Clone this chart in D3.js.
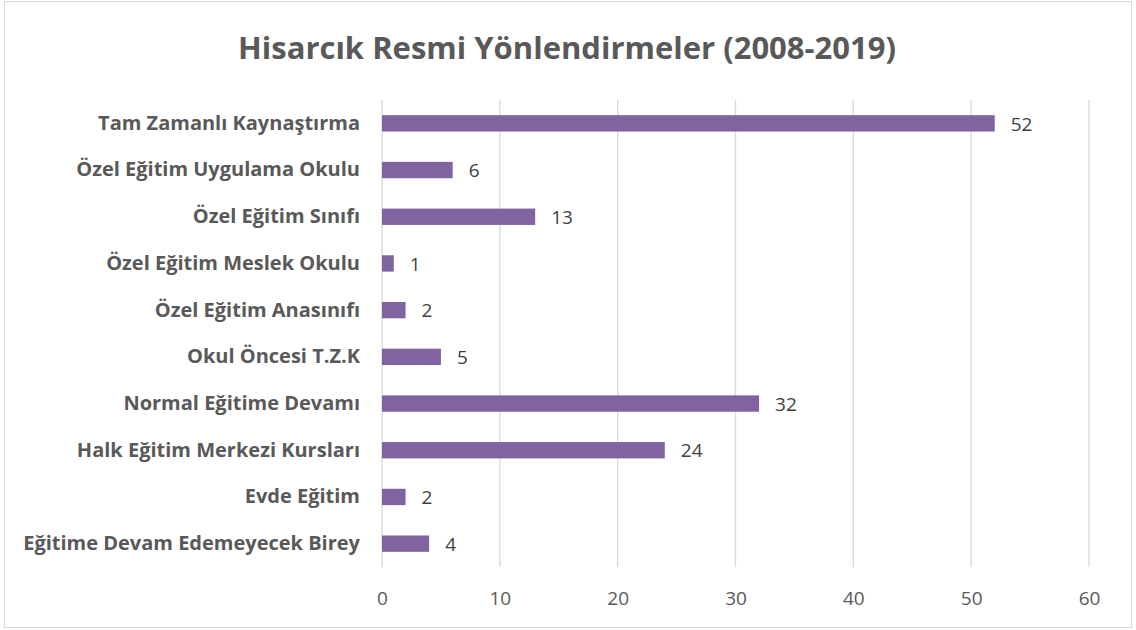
<!DOCTYPE html>
<html><head><meta charset="utf-8">
<script src="https://cdn.jsdelivr.net/npm/d3@7"></script>
<style>body{margin:0;background:#fff}svg{display:block}</style>
</head><body><svg id="c" width="1136" height="630"></svg>
<script>
const categories = ["Tam Zamanlı Kaynaştırma","Özel Eğitim Uygulama Okulu","Özel Eğitim Sınıfı","Özel Eğitim Meslek Okulu","Özel Eğitim Anasınıfı","Okul Öncesi T.Z.K","Normal Eğitime Devamı","Halk Eğitim Merkezi Kursları","Evde Eğitim","Eğitime Devam Edemeyecek Birey"];
const values = [52,6,13,1,2,5,32,24,2,4];
const xTicks = [0,10,20,30,40,50,60];
const title = "Hisarcık Resmi Yönlendirmeler (2008-2019)";

const svg = d3.select("#c");
const font = "'Open Sans', 'Noto Sans', sans-serif";
svg.append("rect").attr("x",4.5).attr("y",1.5).attr("width",1127).attr("height",626)
  .attr("fill","#fff").attr("stroke","#d9d9d9").attr("stroke-width",1);

const x = d3.scaleLinear().domain([0,60]).range([382,1089]);
const y = d3.scaleBand().domain(categories).range([100,567]).paddingInner(0.65).paddingOuter(0.325);

svg.append("text").attr("x",567).attr("y",59).attr("text-anchor","middle")
  .attr("font-family",font).attr("font-weight","bold").attr("font-size",31).attr("fill","#595959").text(title);

const g = svg.append("g");
g.selectAll("line.grid").data(xTicks).join("line").attr("class","grid")
  .attr("x1",d=>x(d)).attr("x2",d=>x(d)).attr("y1",100).attr("y2",567)
  .attr("stroke","#d9d9d9").attr("stroke-width",1.3);

const xAxis = d3.axisBottom(x).tickValues(xTicks).tickSize(0).tickPadding(0);
const ax = svg.append("g").attr("transform","translate(0,605)").call(xAxis);
ax.select(".domain").remove();
ax.selectAll("text").attr("font-family",font).attr("font-size",19).attr("fill","#595959").attr("dy",0);

const yAxis = d3.axisLeft(y).tickSize(0).tickPadding(22);
const ay = svg.append("g").attr("transform","translate(382,0)").call(yAxis);
ay.select(".domain").remove();
ay.selectAll("text").attr("font-family",font).attr("font-weight","bold").attr("font-size",20).attr("fill","#595959");

g.selectAll("rect.bar").data(values).join("rect").attr("class","bar")
  .attr("x",x(0)).attr("y",(d,i)=>y(categories[i]))
  .attr("width",d=>x(d)-x(0)).attr("height",y.bandwidth()).attr("fill","#8064a2");

g.selectAll("text.val").data(values).join("text").attr("class","val")
  .attr("x",d=>x(d)+16).attr("y",(d,i)=>y(categories[i])+y.bandwidth()/2).attr("dy","0.38em")
  .attr("font-family",font).attr("font-size",19).attr("fill","#404040").text(d=>d);
</script></body></html>
